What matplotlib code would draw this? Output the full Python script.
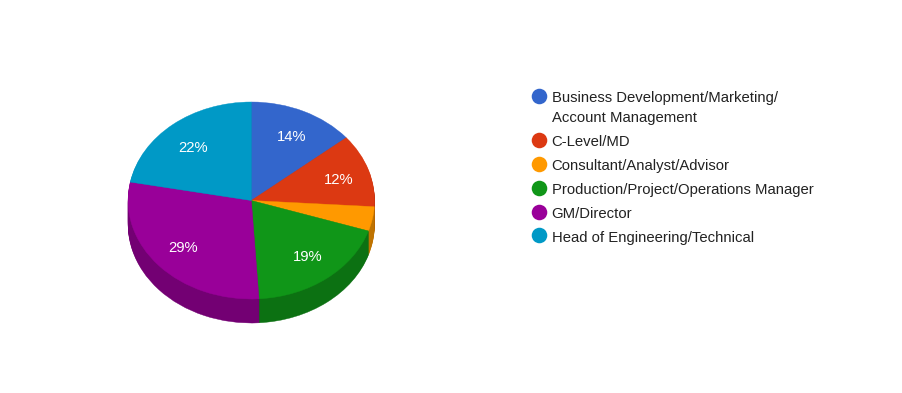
import numpy as np
import matplotlib
matplotlib.use("Agg")
import matplotlib.pyplot as plt
from matplotlib.colors import to_rgb
from matplotlib.lines import Line2D

plt.rcParams['font.family'] = ['Liberation Sans', 'DejaVu Sans']

categories = [
    "Business Development/Marketing/\nAccount Management",
    "C-Level/MD",
    "Consultant/Analyst/Advisor",
    "Production/Project/Operations Manager",
    "GM/Director",
    "Head of Engineering/Technical",
]
values = [14, 12, 4, 19, 29, 22]
colors = ["#3366CC", "#DC3912", "#FF9900", "#109618", "#990099", "#0099C6"]

W, H = 902, 393
CX, CY, RX, RY, DEPTH = 251.3, 200.5, 123.2, 98.5, 24

fig = plt.figure(figsize=(W / 100, H / 100), dpi=100, facecolor="white")
ax = fig.add_axes([0, 0, 1, 1])

dark = [tuple(c * 0.75 for c in to_rgb(col)) for col in colors]


def paint(wedges, cols):
    for w, c in zip(wedges, cols):
        w.set_edgecolor(c)
        w.set_linewidth(0.3)
        w.set_clip_on(False)


for k in range(DEPTH, 0, -1):
    wedges, _ = ax.pie(values, colors=dark, startangle=90, counterclock=False,
                       center=(0, -k / RY), radius=1.0)
    paint(wedges, dark)

wedges, _, autotexts = ax.pie(
    values, colors=colors, startangle=90, counterclock=False,
    autopct=lambda p: f"{p:.0f}%" if p >= 5 else "", pctdistance=0.74,
    textprops=dict(color="white", fontsize=10.65),
)
paint(wedges, colors)

# small pixel nudges of the percentage labels (right, down)
nudges = [(2, 2), (1, 2), (0, 0), (1, -1), (0, -1), (0, 4)]
for t, (dx, dy) in zip(autotexts, nudges):
    x, y = t.get_position()
    t.set_position((x + dx / RX, y - dy / RY))

ax.set_aspect("auto")
ax.set_xlim(-CX / RX, (W - CX) / RX)
ax.set_ylim((CY - H) / RY, CY / RY)
ax.axis("off")

handles = [Line2D([], [], linestyle="none", marker="o", markersize=11.2,
                  markerfacecolor=c, markeredgecolor=c, markeredgewidth=0)
           for c in colors]


def make_legend(hs, labels, top_px):
    return ax.legend(hs, labels, loc="upper left",
                     bbox_to_anchor=(531 / W, 1 - top_px / H),
                     bbox_transform=fig.transFigure,
                     frameon=False, fontsize=10.73, borderpad=0, borderaxespad=0,
                     handlelength=1.1, handletextpad=0.29, labelspacing=0.66,
                     labelcolor="#222222")


# the two-line entry has its own gap below it, so it is a legend of its own
leg_top = make_legend(handles[:1], categories[:1], 91)
for t in leg_top.get_texts():
    t.set_linespacing(1.56)
# its marker sits beside the first line
h = leg_top.legend_handles[0]
h.set_ydata(np.asarray(h.get_ydata()) + 8.8)
ax.add_artist(leg_top)

leg_rest = make_legend(handles[1:], categories[1:], 135.2)
for h in leg_rest.legend_handles:
    h.set_ydata(np.asarray(h.get_ydata()) + 0.7)

fig.savefig("out.png", dpi=100, facecolor="white")
